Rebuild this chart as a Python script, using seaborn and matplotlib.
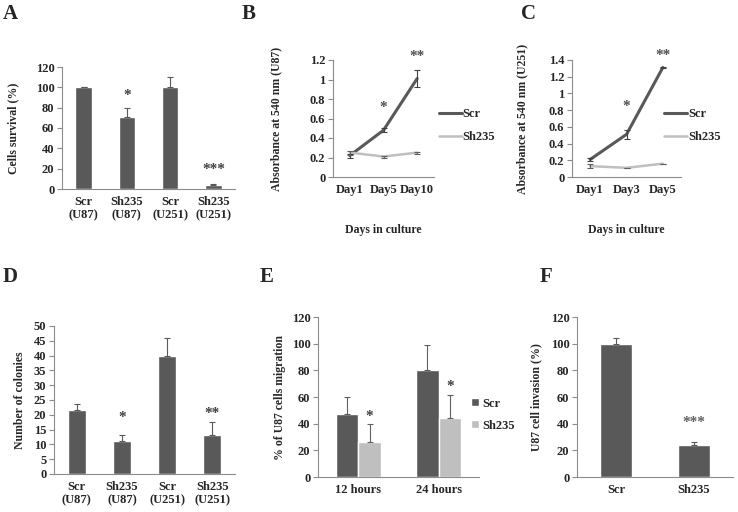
import numpy as np
import pandas as pd
import matplotlib
matplotlib.use("Agg")
import matplotlib.pyplot as plt
import seaborn as sns

# ---- data ----
groups_4 = ["Scr\n(U87)", "Sh235\n(U87)", "Scr\n(U251)", "Sh235\n(U251)"]

survival = [100, 71, 100, 4]
survival_err = [0, 9, 10, 1]
survival_stars = ["", "*", "", "***"]
survival_star_y = [0, 92, 0, 19]

days_b = ["Day1", "Day5", "Day10"]
b_scr = [0.22, 0.48, 1.01]
b_scr_err = [0.02, 0.02, 0.09]
b_sh = [0.25, 0.21, 0.25]
b_sh_err = [0.02, 0.01, 0.01]
b_stars = ["", "*", "**"]
b_star_y = [0, 0.71, 1.24]

days_c = ["Day1", "Day3", "Day5"]
c_scr = [0.21, 0.51, 1.31]
c_scr_err = [0.02, 0.05, 0.01]
c_sh = [0.13, 0.11, 0.16]
c_sh_err = [0.02, 0.0, 0.0]
c_stars = ["", "*", "**"]
c_star_y = [0, 0.84, 1.45]

colonies = [21.5, 11.2, 40, 13.3]
colonies_err = [2.2, 2.1, 6.0, 4.4]
colonies_stars = ["", "*", "", "**"]
colonies_star_y = [0, 19, 0, 20.3]

times_e = ["12 hours", "24 hours"]
e_scr = [47, 80]
e_scr_err = [13, 19]
e_sh = [26.5, 44.5]
e_sh_err = [13, 17]
e_star_y = [45, 67.5]

groups_f = ["Scr", "Sh235"]
invasion = [100, 24]
invasion_err = [4, 2]
invasion_star_y = 40.5

DARK = "#595959"
LIGHT = "#bfbfbf"
AXC = "#8c8c8c"
TICK_FS = 9
LAB_FS = 8.5
STAR_FS = 11

sns.set_style("white")
plt.rcParams["font.family"] = ["Liberation Serif", "DejaVu Serif"]
plt.rcParams["font.weight"] = "bold"

fig = plt.figure(figsize=(7.38, 5.12), dpi=100)
W, H = 738, 512


def add_ax(x0, x1, ytop, ybot):
    return fig.add_axes([x0 / W, 1 - ybot / H, (x1 - x0) / W, (ybot - ytop) / H])


def style(ax, ymax, step):
    for s in ["top", "right"]:
        ax.spines[s].set_visible(False)
    for s in ["left", "bottom"]:
        ax.spines[s].set_color(AXC)
        ax.spines[s].set_linewidth(0.8)
    ax.set_ylim(0, ymax)
    ticks = np.arange(0, ymax + step / 2, step)
    ax.set_yticks(ticks)
    ax.set_yticklabels(["{:g}".format(round(t, 2)) for t in ticks], fontsize=TICK_FS, fontweight="bold")
    ax.tick_params(axis="y", length=3.5, color=AXC, pad=2, left=True)
    ax.tick_params(axis="x", length=0, pad=5, labelsize=TICK_FS)
    for lab in ax.get_xticklabels():
        lab.set_fontweight("bold")
    ax.set_xlabel("")


def stars(ax, xs, labels, ys, color="#404040"):
    for x, s, y in zip(xs, labels, ys):
        if s:
            ax.text(x, y, s, ha="center", va="center", fontsize=STAR_FS, color=color)


def panel_label(x, y, s):
    fig.text(x / W, 1 - y / H, s, fontsize=15, fontweight="bold", ha="center", va="center")


def errs(ax, xs, vals, err, color, both=False):
    yerr = err if both else [np.zeros(len(vals)), err]
    ax.errorbar(xs, vals, yerr=yerr, fmt="none", ecolor=color,
                elinewidth=0.8, capsize=2.5, capthick=0.8)


# ---- A ----
ax = add_ax(62, 235, 67, 189)
df_a = pd.DataFrame({"g": groups_4, "v": survival})
sns.barplot(data=df_a, x="g", y="v", color=DARK, width=0.38, saturation=1, ax=ax)
errs(ax, range(4), survival, survival_err, DARK)
stars(ax, range(4), survival_stars, survival_star_y)
ax.set_xlim(-0.5, 3.5)
style(ax, 120, 20)
ax.set_ylabel("Cells survival (%)", fontsize=LAB_FS, fontweight="bold", labelpad=12)
panel_label(10, 14, "A")


# ---- B & C ----
def line_panel(x0, x1, days, scr, scr_err, sh, sh_err, ymax, st, st_y, leg_anchor, lab, lpad):
    ax = add_ax(x0, x1, 60, 177)
    df = pd.DataFrame({"day": days * 2, "v": scr + sh,
                       "grp": ["Scr"] * 3 + ["Sh235"] * 3})
    sns.lineplot(data=df, x="day", y="v", hue="grp", palette={"Scr": DARK, "Sh235": LIGHT},
                 sort=False, ax=ax, legend=False)
    ax.lines[0].set_linewidth(2.2)
    ax.lines[1].set_linewidth(1.8)
    errs(ax, range(3), scr, scr_err, "#404040", both=True)
    errs(ax, range(3), sh, sh_err, "#606060", both=True)
    stars(ax, range(3), st, st_y, color="#505050")
    ax.set_xlim(-0.5, 2.5)
    style(ax, ymax, 0.2)
    ax.set_ylabel(lab, fontsize=LAB_FS, fontweight="bold", labelpad=lpad)
    ax.set_xlabel("Days in culture", fontsize=LAB_FS, fontweight="bold", labelpad=20)
    h1, = ax.plot([], [], color=DARK, lw=2.2)
    h2, = ax.plot([], [], color=LIGHT, lw=1.8)
    leg = ax.legend([h1, h2], ["Scr", "Sh235"], loc="center left", bbox_to_anchor=leg_anchor,
                    frameon=False, fontsize=TICK_FS, handlelength=1.8, handletextpad=0.1,
                    labelspacing=0.9, borderaxespad=0)
    for t in leg.get_texts():
        t.set_fontweight("bold")
    return ax


line_panel(333, 434, days_b, b_scr, b_scr_err, b_sh, b_sh_err, 1.2,
           b_stars, b_star_y, (1.0, 0.44), "Absorbance at 540 nm (U87)", 20)
panel_label(249, 14, "B")

line_panel(572, 681, days_c, c_scr, c_scr_err, c_sh, c_sh_err, 1.4,
           c_stars, c_star_y, (0.8, 0.44), "Absorbance at 540 nm (U251)", 15)
panel_label(529, 14, "C")

# ---- D ----
ax = add_ax(54, 235, 326, 474)
df_d = pd.DataFrame({"g": groups_4, "v": colonies})
sns.barplot(data=df_d, x="g", y="v", color=DARK, width=0.4, saturation=1, ax=ax)
errs(ax, range(4), colonies, colonies_err, DARK)
stars(ax, range(4), colonies_stars, colonies_star_y)
ax.set_xlim(-0.5, 3.5)
style(ax, 50, 5)
ax.set_ylabel("Number of colonies", fontsize=LAB_FS, fontweight="bold", labelpad=6)
panel_label(10, 277, "D")

# ---- E ----
ax = add_ax(318, 479, 317, 477)
df_e = pd.DataFrame({"t": times_e * 2, "v": e_scr + e_sh,
                     "grp": ["Scr"] * 2 + ["Sh235"] * 2})
sns.barplot(data=df_e, x="t", y="v", hue="grp", palette={"Scr": DARK, "Sh235": LIGHT},
            width=0.56, saturation=1, ax=ax)
off = 0.14
errs(ax, np.arange(2) - off, e_scr, e_scr_err, "#606060")
errs(ax, np.arange(2) + off, e_sh, e_sh_err, "#606060")
stars(ax, np.arange(2) + off, ["*", "*"], e_star_y)
ax.set_xlim(-0.5, 1.5)
style(ax, 120, 20)
ax.set_ylabel("% of U87 cells migration", fontsize=LAB_FS, fontweight="bold", labelpad=4)
leg = ax.legend(loc="center left", bbox_to_anchor=(0.92, 0.39), frameon=False, fontsize=TICK_FS,
                handlelength=0.6, handleheight=0.6, handletextpad=0.3, labelspacing=0.8,
                borderaxespad=0, title=None)
for t in leg.get_texts():
    t.set_fontweight("bold")
panel_label(267, 277, "E")

# ---- F ----
ax = add_ax(577, 733, 317, 477)
df_f = pd.DataFrame({"g": groups_f, "v": invasion})
sns.barplot(data=df_f, x="g", y="v", color=DARK, width=0.41, saturation=1, ax=ax)
errs(ax, range(2), invasion, invasion_err, DARK)
stars(ax, [1], ["***"], [invasion_star_y], color="#606060")
ax.set_xlim(-0.5, 1.5)
style(ax, 120, 20)
ax.set_ylabel("U87 cell invasion (%)", fontsize=LAB_FS, fontweight="bold", labelpad=6)
panel_label(546, 277, "F")

fig.savefig("out.png", dpi=100)
